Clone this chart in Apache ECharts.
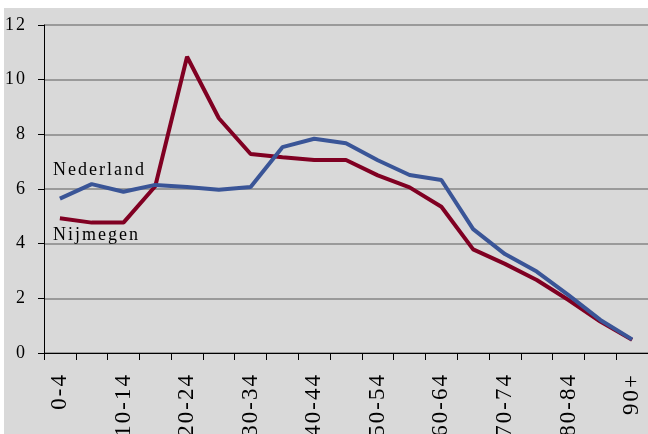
<!DOCTYPE html>
<html>
<head>
<meta charset="utf-8">
<script src="https://cdn.jsdelivr.net/npm/echarts@6/dist/echarts.min.js"></script>
<style>
html,body{margin:0;padding:0;background:#fff;}
#c{width:648px;height:434px;}
</style>
</head>
<body>
<div id="c"></div>
<script>
const categories = ['0-4','5-9','10-14','15-19','20-24','25-29','30-34','35-39','40-44','45-49','50-54','55-59','60-64','65-69','70-74','75-79','80-84','85-89','90+'];
const nederland = [5.65,6.18,5.9,6.15,6.07,5.97,6.07,7.53,7.84,7.67,7.05,6.51,6.33,4.53,3.62,2.98,2.12,1.21,0.5];
const nijmegen  = [4.93,4.77,4.77,6.1,10.84,8.59,7.28,7.16,7.06,7.06,6.5,6.06,5.35,3.79,3.26,2.67,1.94,1.15,0.48];
const yTicks = {min:0, max:12, interval:2};
const seriesNames = ['Nederland','Nijmegen'];

const FONT = '"Liberation Serif","Times New Roman",serif';
const chart = echarts.init(document.getElementById('c'), null, {renderer:'canvas'});
const option = {
  animation:false,
  backgroundColor:'#ffffff',
  graphic:[
    {type:'rect', z:-10, left:4, top:8, shape:{width:700, height:500}, style:{fill:'#d9d9d9'}},
    {type:'text', z:10, left:53, top:161, style:{text:seriesNames[0], font:'18px '+FONT, fill:'#000'}},
    {type:'text', z:10, left:53, top:226, style:{text:seriesNames[1], font:'18px '+FONT, fill:'#000'}}
  ],
  grid:{left:44, top:25, right:-6, bottom:81, containLabel:false},
  xAxis:{
    type:'category', data:categories, boundaryGap:true,
    axisLine:{show:true, lineStyle:{color:'#000', width:1}},
    axisTick:{show:true, length:7, interval:0, lineStyle:{color:'#000'}},
    axisLabel:{interval:1, rotate:90, margin:20, fontFamily:FONT, fontSize:23, color:'#000'},
    splitLine:{show:false}
  },
  yAxis:{
    type:'value', min:yTicks.min, max:yTicks.max, interval:yTicks.interval,
    axisLine:{show:true, lineStyle:{color:'#000', width:1}},
    axisTick:{show:true, length:6, lineStyle:{color:'#000'}},
    axisLabel:{margin:17, fontFamily:FONT, fontSize:18, color:'#000'},
    splitLine:{show:true, lineStyle:{color:'#858585', width:1.5}}
  },
  series:[
    {name:seriesNames[0], type:'line', data:nederland, showSymbol:false, symbol:'none',
     lineStyle:{color:'#3a5597', width:4}, z:3},
    {name:seriesNames[1], type:'line', data:nijmegen, showSymbol:false, symbol:'none',
     lineStyle:{color:'#800022', width:4}, z:2}
  ]
};
chart.setOption(option);
// widen text spacing like the original's spaced lettering
document.querySelectorAll('#c canvas').forEach(function(cv){
  const ctx = cv.getContext('2d');
  if (ctx && 'letterSpacing' in ctx) ctx.letterSpacing = '2px';
});
chart.setOption(option, {notMerge:true});
</script>
</body>
</html>
